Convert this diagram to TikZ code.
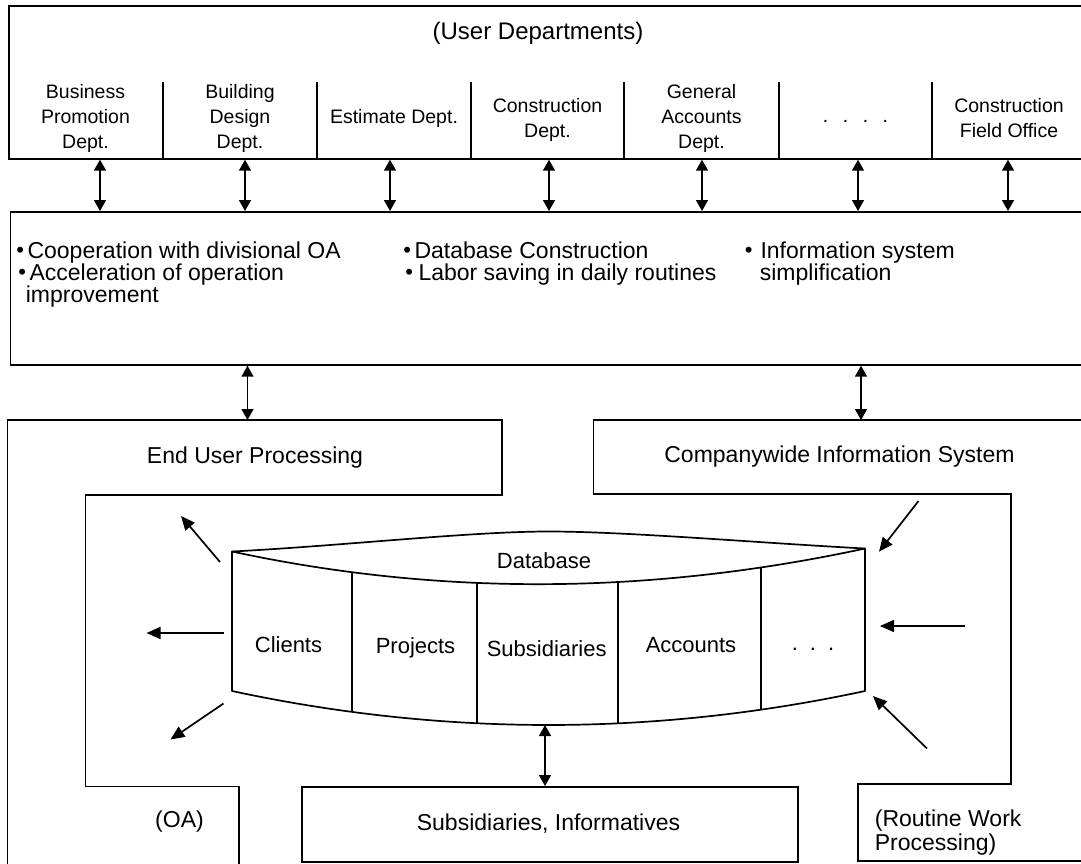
\documentclass[tikz,border=0pt]{standalone}
\usepackage{fontspec}
\setmainfont{Liberation Sans}
\usetikzlibrary{arrows.meta}
% small raised bullet with an adjustable gap after it
\newcommand\bul[1][3.5pt]{{\fontsize{22}{22}\selectfont\raisebox{1pt}{•}}\hspace{#1}}
\begin{document}
\begin{tikzpicture}[x=1pt,y=-1pt,
  line width=1.7pt,
  box/.style={draw, line width=1.7pt, anchor=north west, inner sep=0pt},
  dbl/.style={{Triangle[length=11pt,width=12pt]}-{Triangle[length=11pt,width=12pt]}, line width=1.6pt},
  sgl/.style={-{Triangle[length=14pt,width=12pt]}, line width=1.7pt},
  lbl/.style={inner sep=0pt, font=\fontsize{23}{22}\selectfont},
  dept/.style={inner sep=0pt, align=center, anchor=north, font=\fontsize{19.5}{25}\selectfont},
  dbtext/.style={inner sep=0pt, anchor=base, font=\fontsize{22}{22}\selectfont},
]
\useasboundingbox (0,0) rectangle (1081,863);
\fill[white] (0,0) rectangle (1081,863);
\clip (0,0) rectangle (1081,863);

% ---------- user departments ----------
\node[box, minimum width=1100pt, minimum height=153pt] (users) at (8,5) {};
\foreach \x in {163,317,471,624,779,932}
  \draw (\x,82) -- (\x,158);
\node[lbl, anchor=base, font=\fontsize{24}{24}\selectfont] (udept) at (538,39) {(User Departments)};
\node[dept] (d1) at (85.5,84) {Business\\Promotion\\Dept.};
\node[dept] (d2) at (240,84) {Building\\Design\\Dept.};
\node[dept, anchor=base] (d3) at (394,123.3) {Estimate Dept.};
\node[dept] (d4) at (547.5,97.5) {Construction\\Dept.};
\node[dept] (d5) at (701.5,84) {General\\Accounts\\Dept.};
\node[dept, anchor=base] (d6) at (855.5,122) {.\hspace{14.5pt}.\hspace{14.5pt}.\hspace{14.5pt}.};
\node[dept] (d7) at (1009,97.5) {Construction\\Field Office};

% ---------- office automation goals ----------
\node[box, minimum width=1100pt, minimum height=153pt] (mid) at (9.6,211) {};
\foreach \x [count=\i] in {100,245,390,549,702,858,1008}{
  \coordinate (ax\i) at (\x,0);
  \draw[dbl] (users.south -| ax\i) -- (mid.north -| ax\i);
}
\node[lbl, anchor=base west] (b1) at (15.5,258) {\bul Cooperation with divisional OA};
\node[lbl, anchor=north west, align=left] (b2) at (17.5,263.3) {\bul Acceleration of operation\\\hspace*{7.5pt}improvement};
\node[lbl, anchor=base west] (b3) at (402.5,258) {\bul Database Construction};
\node[lbl, anchor=base west] (b4) at (404.5,280) {\bul[5.5pt]Labor saving in daily routines};
\node[lbl, anchor=north west, align=left] (b5) at (744,241.3) {\bul[8pt]Information system\\\hspace*{15pt}simplification};

% ---------- processing areas ----------
\coordinate (eutop) at (7.5,420);
\coordinate (cwtop) at (593.4,420);
\draw (7.5,870) -- (eutop) -- (501.7,420) -- (501.7,495) -- (85.5,495)
      -- (85.5,786.5) -- (239,786.5) -- (239,870);
\draw (1100,420) -- (cwtop) -- (593.4,494) -- (1010.7,494) -- (1010.7,784)
      -- (858,784) -- (858,861) -- (1100,861);
\coordinate (m1) at (247.5,0);
\coordinate (m2) at (861,0);
\draw[dbl] (mid.south -| m1) -- (eutop -| m1);
\draw[dbl] (mid.south -| m2) -- (cwtop -| m2);

\node[lbl, anchor=base] (eup) at (255,463) {End User Processing};
\node[lbl, anchor=base] (cwis) at (839.5,462) {Companywide Information System};
\node[lbl, anchor=base] (oa) at (179.5,827) {(OA)};
\node[lbl, anchor=north west, align=left, font=\fontsize{23}{23.5}\selectfont] (rwp) at (874,809.3) {(Routine Work\\Processing)};

\node[box, minimum width=496pt, minimum height=75pt] (sub) at (301,786) {};
\node[lbl, anchor=base] (subt) at (548.5,830) {Subsidiaries, Informatives};

% ---------- database ----------
\coordinate (dbTL) at (232,551.5);
\coordinate (dbTR) at (865,548.5);
\coordinate (dbBL) at (232,691);
\coordinate (dbBR) at (865,691);
\coordinate (dbP) at (548.5,531.5);
\draw[line join=round] (dbTL) .. controls (340,546) and (470,531.5) .. (dbP)
      .. controls (627,531.5) and (760,543) .. (dbTR);
\draw[line join=round] (dbTL) .. controls (443,597) and (654,594) .. (dbTR) -- (dbBR)
      .. controls (654,736.3) and (443,736.3) .. (dbBL) -- cycle;
\begin{scope}
  \clip (dbTL) .. controls (443,597) and (654,594) .. (dbTR) -- (dbBR)
      .. controls (654,736.3) and (443,736.3) .. (dbBL) -- cycle;
  \foreach \x in {352,477,618,761}
    \draw (\x,540) -- (\x,760);
\end{scope}
\node[dbtext] (dbname) at (544,568) {Database};
\node[dbtext] (c1) at (288.5,652.5) {Clients};
\node[dbtext] (c2) at (415.5,653) {Projects};
\node[dbtext] (c3) at (546.7,656) {Subsidiaries};
\node[dbtext] (c4) at (691,652) {Accounts};
\node[dbtext] (c5) at (813,650) {.\hspace{12pt}.\hspace{12pt}.};

\coordinate (dbbot) at (545,725);
\draw[dbl] (dbbot) -- (sub.north -| dbbot);

% outgoing flows (end user side)
\coordinate (ulT) at (220,562);   \coordinate (ulH) at (181,516);
\coordinate (lT)  at (223.5,633); \coordinate (lH)  at (146.5,633);
\coordinate (llT) at (223.5,703.5); \coordinate (llH) at (170.5,739.5);
\draw[sgl] (ulT) -- (ulH);
\draw[sgl] (lT) -- (lH);
\draw[sgl] (llT) -- (llH);
% incoming flows (companywide side)
\coordinate (urT) at (918.5,501); \coordinate (urH) at (879,551.7);
\coordinate (rT)  at (965,626);   \coordinate (rH)  at (880,626);
\coordinate (lrT) at (927,748.5); \coordinate (lrH) at (873,696);
\draw[sgl] (urT) -- (urH);
\draw[sgl] (rT) -- (rH);
\draw[sgl] (lrT) -- (lrH);
\end{tikzpicture}
\end{document}
